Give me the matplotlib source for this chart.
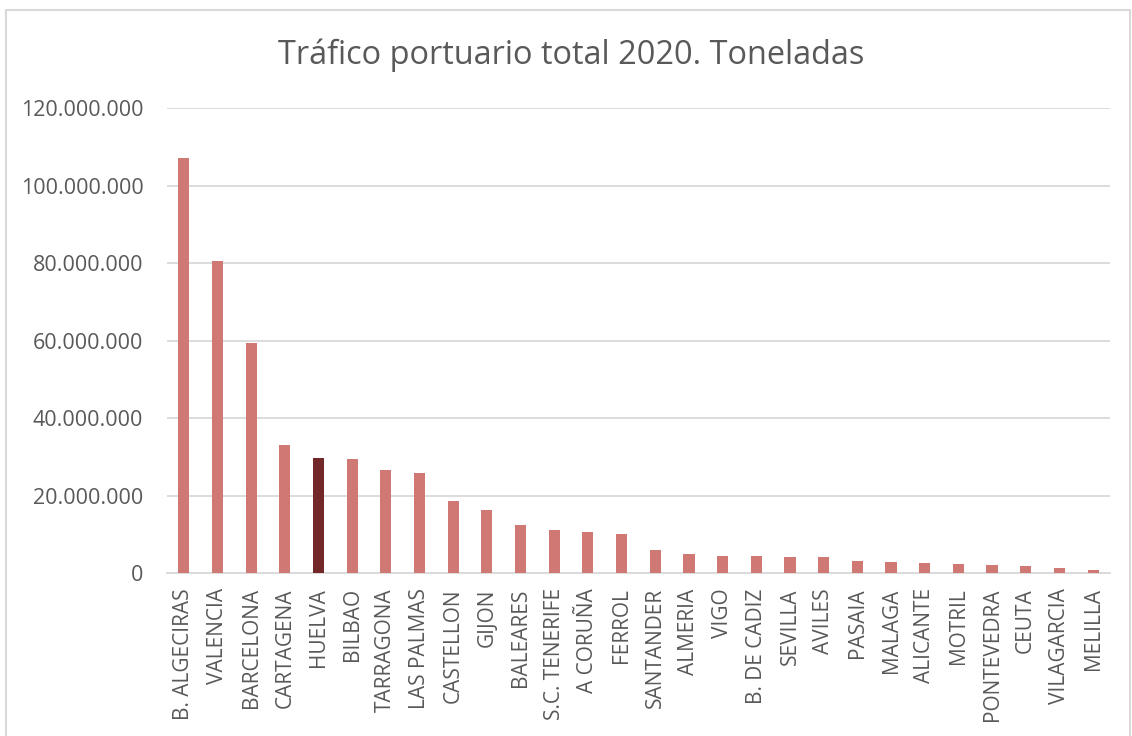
import matplotlib
matplotlib.use('Agg')
import matplotlib.pyplot as plt
from matplotlib.patches import Rectangle
from matplotlib.ticker import FuncFormatter

# puertos ordenados por trafico total 2020 (toneladas)
puertos = ['B. ALGECIRAS', 'VALENCIA', 'BARCELONA', 'CARTAGENA', 'HUELVA',
           'BILBAO', 'TARRAGONA', 'LAS PALMAS', 'CASTELLON', 'GIJON',
           'BALEARES', 'S.C. TENERIFE', 'A CORUÑA', 'FERROL', 'SANTANDER',
           'ALMERIA', 'VIGO', 'B. DE CADIZ', 'SEVILLA', 'AVILES', 'PASAIA',
           'MALAGA', 'ALICANTE', 'MOTRIL', 'PONTEVEDRA', 'CEUTA',
           'VILAGARCIA', 'MELILLA']
toneladas = [107_200_000, 80_600_000, 59_400_000, 33_000_000, 29_800_000,
             29_400_000, 26_500_000, 25_800_000, 18_600_000, 16_200_000,
             12_400_000, 11_100_000, 10_600_000, 10_000_000, 5_900_000,
             4_800_000, 4_400_000, 4_400_000, 4_200_000, 4_100_000, 3_100_000,
             2_800_000, 2_700_000, 2_300_000, 2_100_000, 1_800_000,
             1_300_000, 700_000]
destacado = 'HUELVA'

GRIS = '#595959'
colores = ['#722828' if p == destacado else '#D07874' for p in puertos]

plt.rcParams['font.family'] = ['Open Sans', 'DejaVu Sans']

fig = plt.figure(figsize=(11.32, 7.36), dpi=100)
ax = fig.add_axes([0.1475, 0.2215, 0.833, 0.6315])

x = range(len(puertos))
ax.bar(x, toneladas, width=0.33, color=colores, zorder=3)

ax.set_xlim(-0.5, len(puertos) - 0.5)
ax.set_ylim(0, 120_000_000)
ax.set_yticks(range(0, 120_000_001, 20_000_000))
ax.yaxis.set_major_formatter(FuncFormatter(lambda v, p: f'{int(v):,}'.replace(',', '.')))
ax.set_xticks(list(x))
ax.set_xticklabels(puertos, rotation=90, ha='center', va='top', fontsize=15)

ax.grid(axis='y', color='#D9D9D9', linewidth=1.3, zorder=0)
for s in ['top', 'right', 'left']:
    ax.spines[s].set_visible(False)
ax.spines['bottom'].set_color('#D9D9D9')
ax.spines['bottom'].set_linewidth(1.3)
ax.tick_params(axis='both', length=0, colors=GRIS)
ax.tick_params(axis='y', labelsize=15.5, pad=17)
ax.tick_params(axis='x', pad=11)

fig.text(0.505, 0.925, 'Tráfico portuario total 2020. Toneladas',
         ha='center', va='center', fontsize=23.4, color=GRIS)

# marco del area del grafico
fig.patches.append(Rectangle((6 / 1132, -0.1), 1124 / 1132, 1.1 - 10 / 736,
                             transform=fig.transFigure, fill=False,
                             edgecolor='#D9D9D9', linewidth=1.5))

fig.savefig('out.png', dpi=100)
